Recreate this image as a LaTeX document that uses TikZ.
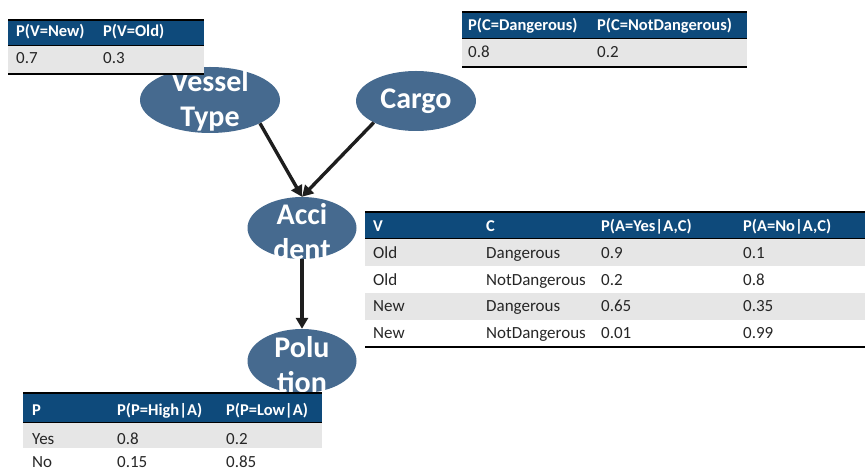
\documentclass[tikz,border=0pt]{standalone}
\usepackage{fontspec}
\setmainfont{Carlito}
\usetikzlibrary{shapes.geometric,arrows.meta}
\definecolor{hdrblue}{HTML}{0E4A7B}
\definecolor{ellblue}{HTML}{466A8F}
\definecolor{rowgray}{HTML}{E6E6E6}
\definecolor{arrowc}{HTML}{1E1E1E}
\begin{document}
\begin{tikzpicture}[x=1pt,y=-1pt,
  ell/.style={ellipse,fill=ellblue,draw=none,inner sep=0pt},
  elltext/.style={text=white,font=\bfseries\fontsize{30}{35}\selectfont,align=center,inner sep=0pt},
  hdr/.style={text=white,font=\bfseries\fontsize{16.5}{19}\selectfont,anchor=base west,inner sep=0pt},
  cell/.style={text=black!85,font=\fontsize{17}{20}\selectfont,anchor=base west,inner sep=0pt},
  hdrfill/.style={fill=hdrblue},
  rowfill/.style={fill=rowgray},
  thickrule/.style={draw=black,line width=1.6pt},
  thinrule/.style={draw=black,line width=1pt},
  arr/.style={draw=arrowc,line width=3.4pt,-{Triangle[length=11pt,width=12pt]}}
]
\useasboundingbox (0,0) rectangle (865,470);

% ellipses
\node[ell,minimum width=140pt,minimum height=66pt] (vt) at (210,100) {};
\node[ell,minimum width=120pt,minimum height=60pt] (cg) at (416,101) {};
\node[ell,minimum width=109pt,minimum height=62pt] (acc) at (302,228) {};
\node[ell,minimum width=109pt,minimum height=64pt] (pol) at (302,361) {};
\node[elltext] (vtt) at (210,101) {Vessel\\Type};
\node[elltext] (cgt) at (416,101) {Cargo};
\node[elltext] (acct) at (302,232) {Acci\\dent};
\node[elltext] (polt) at (302,365) {Polu\\tion};

% arrows
\draw[arr] (vt.-25) -- (acc.north);
\draw[arr] (cg.-153) -- (acc.north);
\draw[arr] (acc.south) -- (pol.north);

% table V (top left)
\fill[hdrfill] (8,20) rectangle (204,46);
\fill[rowfill] (8,46) rectangle (204,74);
\draw[thickrule] (8,20) -- (204,20);
\draw[thinrule] (8,46) -- (204,46);
\draw[thickrule] (8,74) -- (204,74);
\node[hdr] (v1) at (16,37) {P(V=New)};
\node[hdr] (v2) at (103,37) {P(V=Old)};
\node[cell] (v3) at (16,64) {0.7};
\node[cell] (v4) at (103,64) {0.3};

% table C (top right)
\fill[hdrfill] (462,12) rectangle (747,39);
\fill[rowfill] (462,39) rectangle (747,67);
\draw[thickrule] (462,12) -- (747,12);
\draw[thinrule] (462,39) -- (747,39);
\draw[thickrule] (462,67) -- (747,67);
\node[hdr] (c1) at (468,31) {P(C=Dangerous)};
\node[hdr] (c2) at (597,31) {P(C=NotDangerous)};
\node[cell] (c3) at (468,58) {0.8};
\node[cell] (c4) at (597,58) {0.2};

% table A (middle)
\fill[hdrfill] (365,212) rectangle (865,239);
\fill[rowfill] (365,239) rectangle (865,266);
\fill[rowfill] (365,293) rectangle (865,320);
\draw[thickrule] (365,212) -- (865,212);
\draw[thinrule] (365,239) -- (865,239);
\draw[thickrule] (365,347) -- (865,347);
\node[hdr] (a1) at (373,232) {V};
\node[hdr] (a2) at (486,232) {C};
\node[hdr] (a3) at (601,232) {P(A=Yes|A,C)};
\node[hdr] (a4) at (743,232) {P(A=No|A,C)};
\node[cell] (a5) at (373,259) {Old};
\node[cell] (a6) at (486,259) {Dangerous};
\node[cell] (a7) at (601,259) {0.9};
\node[cell] (a8) at (743,259) {0.1};
\node[cell] (a9) at (373,286) {Old};
\node[cell] (a10) at (486,286) {NotDangerous};
\node[cell] (a11) at (601,286) {0.2};
\node[cell] (a12) at (743,286) {0.8};
\node[cell] (a13) at (373,312) {New};
\node[cell] (a14) at (486,312) {Dangerous};
\node[cell] (a15) at (601,312) {0.65};
\node[cell] (a16) at (743,312) {0.35};
\node[cell] (a17) at (373,339) {New};
\node[cell] (a18) at (486,339) {NotDangerous};
\node[cell] (a19) at (601,339) {0.01};
\node[cell] (a20) at (743,339) {0.99};

% table P (bottom left)
\fill[hdrfill] (23,393) rectangle (322,422);
\fill[rowfill] (23,422) rectangle (322,448);
\draw[thickrule] (23,393) -- (322,393);
\draw[thinrule] (23,422) -- (322,422);
\node[hdr] (p1) at (32,415) {P};
\node[hdr] (p2) at (117,415) {P(P=High|A)};
\node[hdr] (p3) at (226,415) {P(P=Low|A)};
\node[cell] (p4) at (32,444) {Yes};
\node[cell] (p5) at (117,444) {0.8};
\node[cell] (p6) at (226,444) {0.2};
\node[cell] (p7) at (32,467) {No};
\node[cell] (p8) at (117,467) {0.15};
\node[cell] (p9) at (226,467) {0.85};
\end{tikzpicture}
\end{document}
